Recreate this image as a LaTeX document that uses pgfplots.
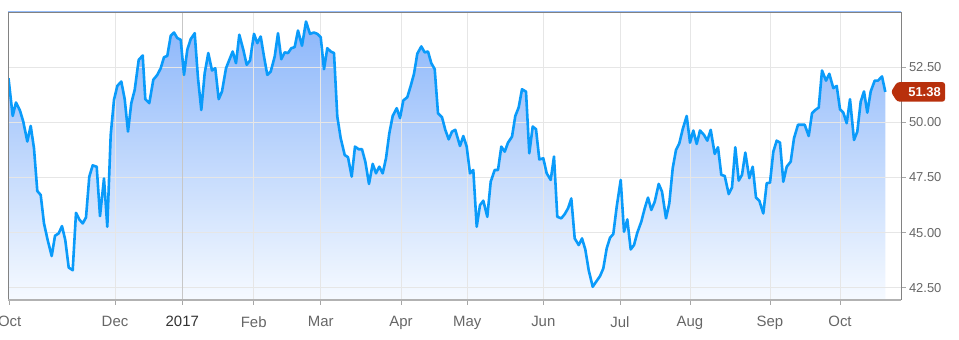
\documentclass[border=0pt]{standalone}
\usepackage{pgfplots}
\pgfplotsset{compat=1.18}
\usepackage{pgfplotstable}
\usepackage{fontspec}
\setmainfont{Liberation Sans}
\definecolor{linecol}{RGB}{10,155,250}
\definecolor{filltop}{RGB}{136,180,250}
\definecolor{fillbot}{RGB}{246,250,255}
\definecolor{tagred}{RGB}{184,48,12}
\definecolor{gridc}{RGB}{230,230,230}
\definecolor{framec}{RGB}{130,130,130}
\definecolor{labc}{RGB}{102,102,102}

% x = horizontal position along the trading-day axis, y = price
\pgfplotstableread{
x y
8.5 52.00
12.7 50.29
16 50.90
20 50.53
23.3 50.03
27.3 49.13
30.7 49.84
34 48.82
37.3 46.89
40.7 46.71
44 45.42
47.7 44.66
51.7 43.94
55 44.86
58.7 44.97
62 45.30
65.3 44.66
68.7 43.42
72.7 43.30
76 45.90
79.3 45.60
82.7 45.42
86 45.69
89.3 47.54
92.7 48.05
96.7 47.99
100 45.75
104 47.46
107.3 45.27
110.7 49.43
114 51.02
117.3 51.65
121.3 51.85
124.7 51.05
128 49.58
131.3 50.87
134.7 51.47
138.7 52.83
142.7 53.03
145.3 51.05
149.3 50.87
153.3 51.93
157.3 52.15
160.7 52.45
164 52.95
167.3 53.01
170.7 53.92
174 54.07
177.3 53.82
180.7 53.74
184 52.15
187.3 53.29
190.7 53.77
194.7 54.04
198 52.00
201.3 50.56
204.7 52.23
208.3 53.14
212 52.35
215.3 52.45
218.7 51.05
222 51.40
226 52.45
229.3 52.83
232.7 53.21
236 52.68
239.3 53.97
243.3 53.29
246.7 52.61
250 52.80
254 54.01
257.3 53.59
260.7 53.89
264 52.98
267.3 52.15
270.7 52.30
274.7 52.98
278 54.04
281.3 52.86
284.7 53.17
288 53.14
291.3 53.36
294.7 53.41
298 54.16
302 53.47
306 54.57
310 54.01
314 54.07
317.3 54.01
320.7 53.86
324 52.41
327.3 53.36
330.7 53.21
334 53.14
337.3 50.26
340.7 49.28
344.7 48.52
348 48.42
351.7 47.54
355 48.90
358.7 48.78
362 48.78
365.3 48.22
369 47.21
372.7 48.12
376 47.69
379.3 47.99
382.7 47.69
386 48.37
389.3 49.50
392.7 50.29
396.7 50.64
400 50.19
403.3 50.99
407.3 51.14
410.7 51.65
414 52.20
417.3 53.11
421.3 53.44
424.7 53.17
428 53.21
431.3 52.68
434.7 52.41
438 50.41
442 50.23
445.3 49.66
448.7 49.23
452 49.58
455.3 49.66
460 48.93
463.3 49.38
466.7 48.90
470 47.69
473.3 47.84
476.7 45.27
480 46.25
483.3 46.45
487.3 45.72
490.7 47.31
494.7 47.84
498 47.84
501.3 48.90
504.7 48.67
508 49.08
512 49.35
515.3 50.29
518.7 50.68
522 51.50
526 51.39
529.3 48.60
532.7 49.81
536 49.69
539.3 48.32
543.3 48.37
546.7 47.69
550.7 47.39
554 48.45
557.3 45.72
561.3 45.65
564.7 45.84
568 46.10
571.3 46.55
574.7 44.74
578.7 44.44
582 44.74
585.3 44.24
588.7 43.30
592.7 42.55
596 42.77
600 43.03
603.3 43.38
606.7 44.29
610 44.77
613.3 44.94
616.7 46.18
620.7 47.39
624 45.04
627.3 45.60
630.7 44.24
634 44.44
637.3 45.00
641.3 45.50
644.7 46.10
648 46.59
651.3 46.03
654.7 46.40
658.7 47.21
662 46.86
666 45.65
669.3 46.33
672.7 47.92
676 48.75
679.3 49.05
682.7 49.69
686.7 50.29
690 49.08
693.3 49.63
696.7 49.02
700 49.63
704 49.43
707.3 49.17
710.7 49.66
714.7 48.57
718 48.87
721.3 47.62
724.7 47.57
728.7 46.75
732 47.05
735.3 48.87
738.7 47.36
742 47.62
745.3 48.63
749.3 47.47
752.7 47.99
756 46.59
759.3 46.45
763.3 45.87
766.7 47.24
770 47.27
773.3 48.67
776.7 49.17
780 49.08
783.3 47.31
786.7 47.99
790.7 48.22
794 49.28
798 49.89
801.3 49.89
804.7 49.89
808.7 49.38
812 50.41
815.3 50.56
818.7 50.67
822 52.35
826 51.89
829.3 52.20
833.3 51.55
836.7 51.65
840 50.59
843.3 50.44
846.7 49.96
850 51.05
854 49.20
857.3 49.58
860.7 50.94
864 51.40
867.3 50.44
870.7 51.40
874.7 51.89
878 51.89
882 52.08
885.3 51.38
}\oil

\begin{document}
\begin{tikzpicture}
\useasboundingbox (0,0) rectangle (959bp,340bp);
% gradient background of the plot area (masked above the curve below)
\fill[top color=filltop, bottom color=fillbot] (8bp,40bp) rectangle (901bp,328bp);
\begin{axis}[
  at={(8bp,40bp)}, anchor=south west,
  scale only axis, width=893bp, height=288bp,
  xmin=8, xmax=901, ymin=41.95, ymax=55,
  axis line style={draw=none},
  xtick={9.7,115,182.3,253.7,320.7,401,467.3,543.3,620,690,770,840},
  xticklabels={Oct,Dec,\textcolor{black!80}{2017},Feb,Mar,Apr,May,Jun,Jul,Aug,Sep,Oct},
  ytick={42.5,45,47.5,50,52.5},
  yticklabel pos=right, ytick pos=right, xtick pos=left,
  tick align=outside, major tick length=4.5bp,
  tick style={draw=black!35, line width=0.9bp},
  /pgf/number format/assume math mode=true,
  y tick label style={/pgf/number format/fixed, /pgf/number format/fixed zerofill, /pgf/number format/precision=2,
    font=\fontsize{13}{13}\selectfont, text=labc},
  x tick label style={font=\fontsize{15}{15}\selectfont, text=labc, yshift=-8.5bp},
]
% white mask above the curve and right of its last point
\addplot[fill=white, draw=none, forget plot] table[x=x, y=y] {\oil}
  -- (axis cs:885.3,41.95) -- (axis cs:901,41.95) -- (axis cs:901,55) -- (axis cs:8,55) -- (axis cs:8,52) -- cycle;
% grid
\pgfplotsinvokeforeach{42.5,45,47.5,50,52.5}{\draw[gridc, line width=0.9bp] (axis cs:8,#1) -- (axis cs:901,#1);}
\pgfplotsinvokeforeach{115,253.7,320.7,401,467.3,543.3,620,690,770,840}{\draw[gridc, line width=0.9bp] (axis cs:#1,41.95) -- (axis cs:#1,55);}
\draw[black!22, line width=0.9bp] (axis cs:182.3,41.95) -- (axis cs:182.3,55);
\addplot[draw=linecol, line width=2.6bp, line join=round, no marks] table[x=x, y=y] {\oil};
\coordinate (tagpt) at (axis cs:891,51.38);
\end{axis}
\draw[framec, line width=0.8bp] (current axis.south west) -- (current axis.north west) -- (current axis.north east) -- (current axis.south east);
\draw[black!30, line width=1.8bp] (current axis.south west) -- (current axis.south east);
\fill[tagred, rounded corners=2.5bp] (tagpt) -- ([shift={(6bp,9.7bp)}]tagpt) -- ([shift={(54bp,9.7bp)}]tagpt) -- ([shift={(54bp,-9.7bp)}]tagpt) -- ([shift={(6bp,-9.7bp)}]tagpt) -- cycle;
\node[text=white, font=\bfseries\fontsize{13}{13}\selectfont, inner sep=0pt] at ([xshift=33.5bp]tagpt) {51.38};
\end{tikzpicture}
\end{document}
